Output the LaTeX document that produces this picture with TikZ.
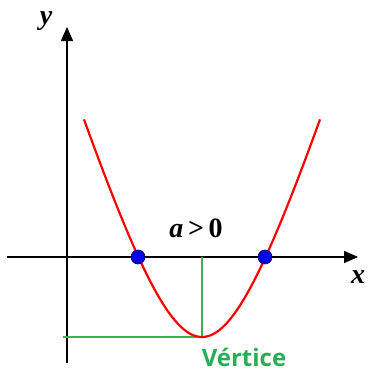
\documentclass[tikz,border=0pt]{standalone}
\usepackage{fontspec}
\setmainfont{Liberation Serif}
\newfontfamily\labelsans{Open Sans}
\usetikzlibrary{arrows.meta}
\definecolor{vgreen}{RGB}{60,180,75}
\definecolor{tgreen}{RGB}{40,175,85}
\definecolor{dotblue}{RGB}{0,0,230}
\tikzset{
  axis/.style={line width=1.5pt, -{Triangle[length=14pt,width=12pt]}},
  guide/.style={vgreen, line width=1.2pt},
  curve/.style={red, line width=2.2pt},
  rootdot/.style={circle, fill=dotblue, draw=black!70!blue, line width=0.6pt, minimum size=14pt, inner sep=0pt},
  mathlbl/.style={font=\fontsize{28}{28}\selectfont\bfseries\itshape, inner sep=0pt}
}
\begin{document}
\begin{tikzpicture}[x=1pt,y=-1pt]
\useasboundingbox (0,0) rectangle (371,372);
\coordinate (xs) at (7,257);
\coordinate (xe) at (358,257);
\coordinate (ys) at (67,363);
\coordinate (ye) at (67,27);
\coordinate (v) at (202,337);
\coordinate (vx) at (202,257);
\coordinate (vy) at (63,337);
\draw[axis] (xs) -- (xe);
\draw[axis] (ys) -- (ye);
\draw[guide] (vx) -- (v) -- (vy);
\draw[curve] plot[domain=-118:118, samples=121, smooth] ({202+\x},{337-217*(sqrt(1+(\x/68)^2)-1)});
\node[rootdot] (r1) at (138,257) {};
\node[rootdot] (r2) at (265,257) {};
\node[mathlbl] (ylab) at (46,21) {y};
\node[mathlbl] (xlab) at (358,277) {x};
\node[inner sep=0pt, font=\fontsize{28}{28}\selectfont\bfseries] (a) at (196,228) {\textit{a}\,>\,0};
\node[inner sep=0pt, font=\labelsans\fontsize{24}{24}\selectfont\bfseries, text=tgreen] (vt) at (244,357) {Vértice};
\end{tikzpicture}
\end{document}
